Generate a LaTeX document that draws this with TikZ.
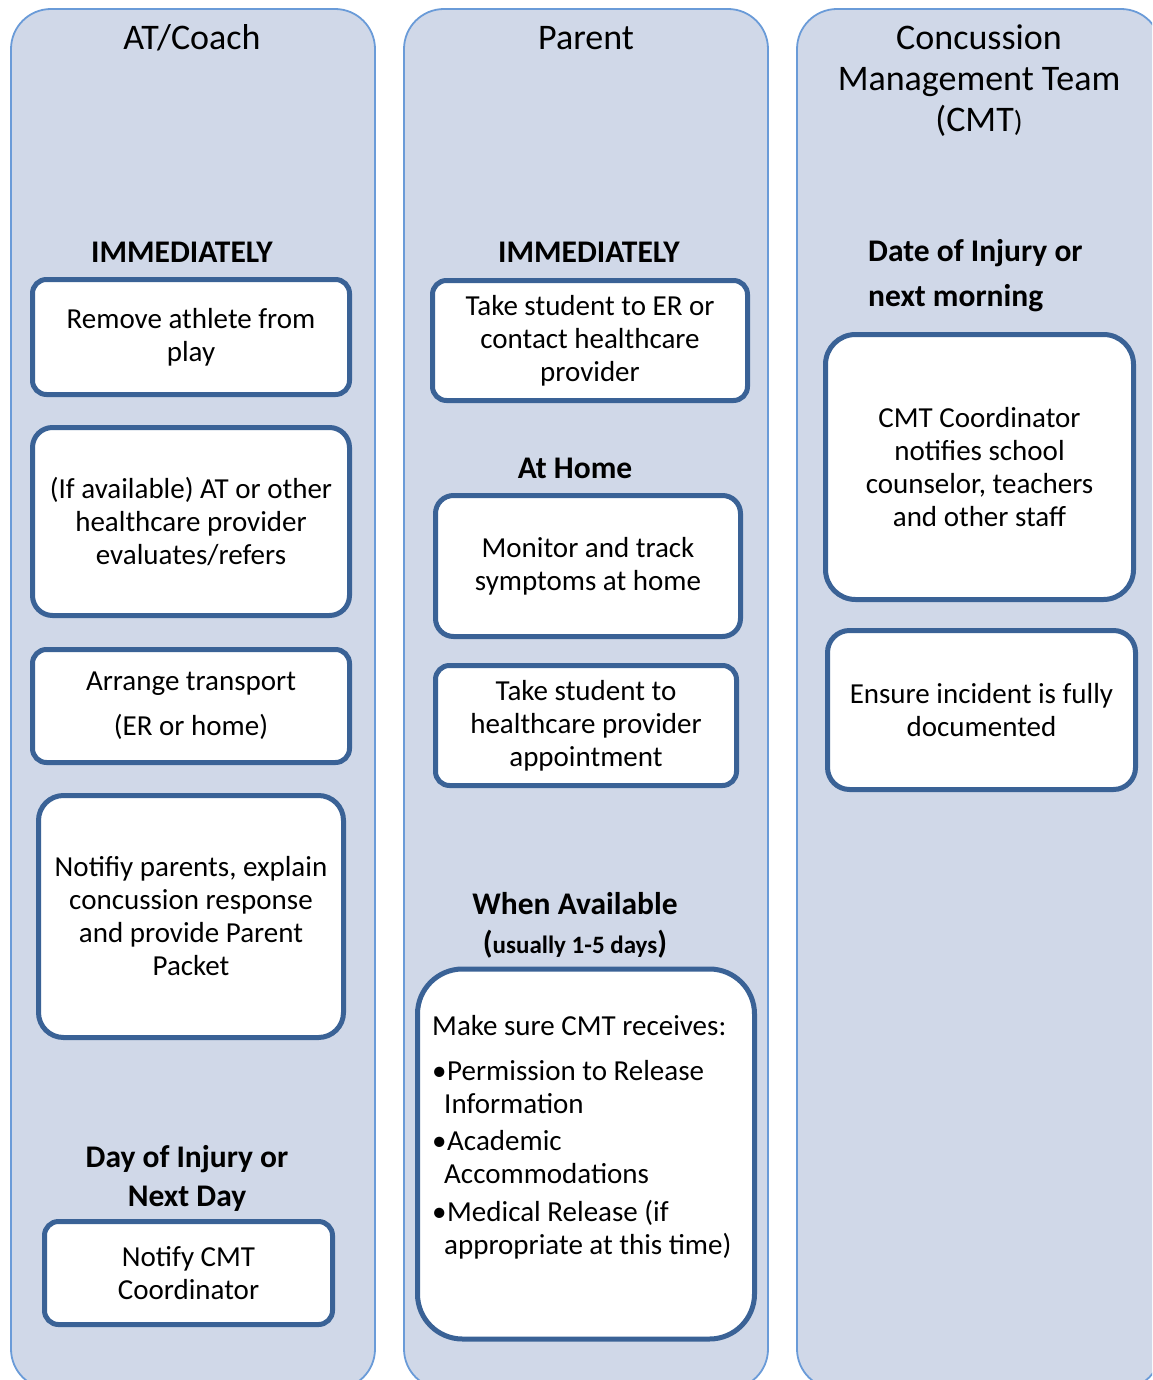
\documentclass[tikz,border=0pt]{standalone}
\usepackage{fontspec}
\setmainfont{Carlito}
\definecolor{colfill}{HTML}{D0D8E8}
\definecolor{colline}{HTML}{6A9BD8}
\definecolor{boxline}{HTML}{3A6296}
\newcommand\bxfont{\fontsize{29}{33}\selectfont}
\newcommand\hdfont{\fontsize{31.5}{39}\selectfont\bfseries}
\newcommand\ttlfont{\fontsize{36}{41}\selectfont}
\begin{document}
\begin{tikzpicture}[x=1pt,y=-1pt,
  column/.style={draw=colline, line width=1.8pt, fill=colfill, rounded corners=40pt, anchor=north west, inner sep=0pt, outer sep=0pt},
  bx/.style={draw=boxline, line width=5pt, fill=white, rounded corners=14pt, align=center, font=\bxfont, inner sep=0pt},
  hd/.style={font=\hdfont, align=center, inner sep=0pt},
  ttl/.style={font=\ttlfont, align=center, inner sep=0pt}]
\useasboundingbox (0,0) rectangle (1152,1380);
\clip (0,0) rectangle (1152,1380);
% columns
\node[column, minimum width=364pt, minimum height=1380pt] (colA) at (11,9) {};
\node[column, minimum width=364pt, minimum height=1380pt] (colB) at (404,9) {};
\node[column, minimum width=364pt, minimum height=1380pt] (colC) at (797,9) {};
% titles
\node[ttl] (tA) at (192,38) {AT/Coach};
\node[ttl] (tB) at (586,38) {Parent};
\node[ttl] (tC) at (979,81) {Concussion\\Management Team\\(CMT{\fontsize{29}{41}\selectfont)}};
% headings
\node[hd] (hA1) at (182,252) {IMMEDIATELY};
\node[hd] (hB1) at (589,252) {IMMEDIATELY};
\node[hd, align=left, anchor=west] (hC1) at (868,276) {Date of Injury or\\[6pt]next morning};
\node[hd] (hB2) at (575,468) {At Home};
\node[hd] (hB3) at (575,904) {When Available};
\node[hd] (hB4) at (575,944) {({\fontsize{25}{30}\selectfont usually 1-5 days})};
\node[hd] (hA2) at (187,1178) {Day of Injury or\\Next Day};
% left column boxes
\node[bx, minimum width=317pt, minimum height=115pt] (a1) at (191,337) {Remove athlete from\\play};
\node[bx, rounded corners=20pt, minimum width=317pt, minimum height=188pt] (a2) at (191,521.5) {(If available) AT or other\\healthcare provider\\evaluates/refers};
\node[bx, minimum width=317pt, minimum height=113pt] (a3) at (191,706) {Arrange transport\\[12pt](ER or home)};
\node[bx, rounded corners=25pt, minimum width=305pt, minimum height=242pt] (a4) at (191,916.5) {Notifiy parents, explain\\concussion response\\and provide Parent\\Packet};
\node[bx, minimum width=288pt, minimum height=103pt] (a5) at (188.5,1273) {Notify CMT\\Coordinator};
% middle column boxes
\node[bx, minimum width=315pt, minimum height=120pt] (b1) at (590,340.5) {Take student to ER or\\contact healthcare\\provider};
\node[bx, rounded corners=18pt, minimum width=305pt, minimum height=141pt] (b2) at (588,566) {Monitor and track\\symptoms at home};
\node[bx, minimum width=301pt, minimum height=120pt] (b3) at (586,725.5) {Take student to\\healthcare provider\\appointment};
\node[bx, rounded corners=45pt, minimum width=337pt, minimum height=370pt] (b4) at (586,1154) {};
\node[font=\bxfont, align=left, anchor=base west, inner sep=0pt] (b4t) at (432,1254) {Make sure CMT receives:\\[12pt]
\makebox[15pt][l]{\textbullet}Permission to Release\\
\hspace*{12pt}Information\\[4pt]
\makebox[15pt][l]{\textbullet}Academic\\
\hspace*{12pt}Accommodations\\[5pt]
\makebox[15pt][l]{\textbullet}Medical Release (if\\
\hspace*{12pt}appropriate at this time)};
% right column boxes
\node[bx, rounded corners=30pt, minimum width=308pt, minimum height=265pt] (c1) at (979.5,467) {CMT Coordinator\\notifies school\\counselor, teachers\\and other staff};
\node[bx, rounded corners=22pt, minimum width=308pt, minimum height=159pt] (c2) at (981.5,710) {Ensure incident is fully\\documented};
\end{tikzpicture}
\end{document}
